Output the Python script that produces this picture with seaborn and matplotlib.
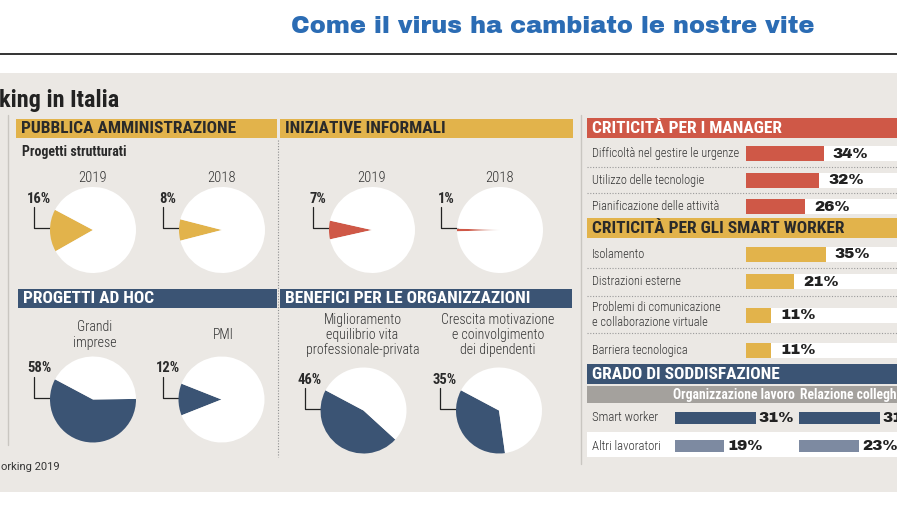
import matplotlib
matplotlib.use("Agg")
import matplotlib.pyplot as plt
import pandas as pd
import seaborn as sns
from matplotlib.patches import Rectangle

# ---------------- data ----------------
title = "Come il virus ha cambiato le nostre vite"
subtitle = "king in Italia"
source = "orking 2019"

pa_header = "PUBBLICA AMMINISTRAZIONE"
pa_sub = "Progetti strutturati"
pa_years = ["2019", "2018"]
pa_values = [16, 8]

inf_header = "INIZIATIVE INFORMALI"
inf_years = ["2019", "2018"]
inf_values = [7, 1]

adhoc_header = "PROGETTI AD HOC"
adhoc_labels = ["Grandi\nimprese", "PMI"]
adhoc_values = [58, 12]

ben_header = "BENEFICI PER LE ORGANIZZAZIONI"
ben_labels = ["Miglioramento\nequilibrio vita\nprofessionale-privata",
              "Crescita motivazione\ne coinvolgimento\ndei dipendenti"]
ben_values = [46, 35]

mgr_header = "CRITICITÀ PER I MANAGER"
mgr_labels = ["Difficoltà nel gestire le urgenze", "Utilizzo delle tecnologie",
              "Pianificazione delle attività"]
mgr_values = [34, 32, 26]

sw_header = "CRITICITÀ PER GLI SMART WORKER"
sw_labels = ["Isolamento", "Distrazioni esterne",
             "Problemi di comunicazione\ne collaborazione virtuale", "Barriera tecnologica"]
sw_values = [35, 21, 11, 11]

sat_header = "GRADO DI SODDISFAZIONE"
sat_cols = ["Organizzazione lavoro", "Relazione colleghi"]
sat_groups = ["Smart worker", "Altri lavoratori"]
sat_org = [31, 19]
sat_rel = [31, 23]

# ---------------- style ----------------
GOLD = "#e2b34b"
RED = "#cf5847"
NAVY = "#3b5474"
LIGHTNAVY = "#7d8aa1"
PANEL = "#ebe8e4"
SUBGREY = "#a4a19d"
DARK = "#2a2a2a"
TXT = "#333333"
BLUE = "#2b6cb4"
COND = ["Roboto Condensed", "DejaVu Sans"]
HEAVY = ["Archivo Black", "DejaVu Sans"]

sns.set_theme(style="white")
plt.rcParams["font.family"] = COND

W, H = 897, 505
fig = plt.figure(figsize=(W / 100, H / 100), dpi=100)
fig.patch.set_facecolor("white")
bg = fig.add_axes([0, 0, 1, 1])
bg.set_xlim(0, W)
bg.set_ylim(H, 0)
bg.axis("off")


def box(x0, y0, x1, y1):
    return fig.add_axes([x0 / W, 1 - y1 / H, (x1 - x0) / W, (y1 - y0) / H])


def rect(x0, y0, x1, y1, color, z=1):
    bg.add_patch(Rectangle((x0, y0), x1 - x0, y1 - y0, facecolor=color, lw=0, zorder=z))


def header(x0, y0, x1, y1, color, text, tcolor):
    rect(x0, y0, x1, y1, color, z=2)
    bg.text(x0 + 5, (y0 + y1) / 2 + 0.5, text, ha="left", va="center", fontsize=12.5,
            fontweight="heavy", color=tcolor, zorder=3)


# background pieces
rect(0, 72.5, W, 492, PANEL, z=0)
bg.plot([0, W], [54, 54], color="#111111", lw=1.2)
bg.text(553, 27, title, ha="center", va="center", fontfamily=HEAVY, fontsize=17.3, color=BLUE)
bg.text(-1, 100, subtitle, ha="left", va="center", fontsize=17.5, fontweight="heavy",
        color="#222222")
bg.text(1, 467, source, ha="left", va="center", fontfamily=["Roboto", "DejaVu Sans"],
        fontsize=8, color=TXT)

bg.plot([8, 8], [115, 445], color="#c9c6c1", lw=1)
bg.plot([277.5, 277.5], [140, 457], color="#8f8f8f", lw=0.8, ls=(0, (1, 1.5)))
bg.plot([581, 581], [115, 464], color="#c9c6c1", lw=1)

header(16, 119, 277, 137.5, GOLD, pa_header, DARK)
header(280, 119, 573, 137.5, GOLD, inf_header, DARK)
header(18, 289, 277, 307.5, NAVY, adhoc_header, "white")
header(280, 289, 572, 307.5, NAVY, ben_header, "white")
bg.text(22, 152, pa_sub, ha="left", va="center", fontsize=10, fontweight="bold", color=DARK)


# ---------------- pies ----------------
def draw_pie(cx, cy, value, color, r=43):
    ax = box(cx - r, cy - r, cx + r, cy + r)
    start = 180 - min(value * 3.6 / 2, 28)
    ax.pie([value, 100 - value], colors=[color, "white"], startangle=start,
           counterclock=True, radius=1, wedgeprops=dict(linewidth=0))
    ax.set_xlim(-1.0, 1.0)
    ax.set_ylim(-1.0, 1.0)
    ax.set_aspect("equal")
    ax.axis("off")
    lx = cx - r - 16
    bg.plot([lx, lx, cx - r + 1], [cy - 23, cy - 2, cy - 2], color="#222222", lw=0.9, zorder=3)
    bg.text(lx + 5, cy - 31, f"{value}%", ha="center", va="center", fontsize=10.5,
            fontweight="bold", color=DARK)


pie_cx_left = [93, 222]
pie_cx_right = [372, 500]
for cx, yr, v in zip(pie_cx_left, pa_years, pa_values):
    draw_pie(cx, 230, v, GOLD)
    bg.text(cx, 178, yr, ha="center", va="center", fontsize=10.5, color=TXT, fontweight="light")
for cx, yr, v in zip(pie_cx_right, inf_years, inf_values):
    draw_pie(cx, 230, v, RED)
    bg.text(cx, 178, yr, ha="center", va="center", fontsize=10.5, color=TXT, fontweight="light")
for cx, lab, v in zip([93, 221.5], adhoc_labels, adhoc_values):
    draw_pie(cx, 399.5, v, NAVY)
    bg.text(cx + 2, 335, lab, ha="center", va="center", fontsize=10, color=TXT,
            fontweight="light", linespacing=1.1)
for cx, lab, v in zip([363.5, 499], ben_labels, ben_values):
    draw_pie(cx, 410.5, v, NAVY)
    bg.text(cx - 1, 335, lab, ha="center", va="center", fontsize=10, color=TXT,
            fontweight="light", linespacing=1.1)


# ---------------- bars ----------------
def bar_row(cy, x0, x1, value, label, color, scale, h, track, gap, vsize):
    ax = box(x0, cy - h / 2, x1, cy + h / 2)
    df = pd.DataFrame({"cat": [label], "val": [value]})
    sns.barplot(data=df, x="val", y="cat", orient="h", color=color, width=1.0,
                saturation=1, ax=ax, linewidth=0)
    ax.set_xlim(0, (x1 - x0) / scale)
    ax.set_ylim(0.5, -0.5)
    ax.set_facecolor("white" if track else "none")
    ax.set_xticks([])
    ax.set_yticks([])
    ax.set_xlabel("")
    ax.set_ylabel("")
    for s in ax.spines.values():
        s.set_visible(False)
    ax.text(value + gap / scale, 0, f"{value}%", ha="left", va="center", fontfamily=HEAVY,
            fontsize=vsize, color="#222222", clip_on=False)


header(587, 118, W + 2, 137.5, RED, mgr_header, "white")
mgr_y = [153.5, 180.5, 207]
for y in [166.5, 193]:
    bg.plot([587, W], [y, y], color="#9a9a9a", lw=0.8, ls=(0, (1, 1.5)))
for y, lab, v in zip(mgr_y, mgr_labels, mgr_values):
    bar_row(y, 746, W, v, lab, RED, 2.28, 15, True, 9, 11)
    bg.text(592, y, lab, ha="left", va="center", fontsize=8.8, color=TXT, fontweight="light")

header(587, 218, W + 2, 237.5, GOLD, sw_header, DARK)
sw_y = [254.5, 281.5, 315, 350.5]
for y in [268, 296, 333]:
    bg.plot([587, W], [y, y], color="#9a9a9a", lw=0.8, ls=(0, (1, 1.5)))
for y, lab, v in zip(sw_y, sw_labels, sw_values):
    bar_row(y, 746, W, v, lab, GOLD, 2.28, 15, True, 9, 11)
    bg.text(592, y, lab, ha="left", va="center", fontsize=8.8, color=TXT, fontweight="light",
            linespacing=1.15)

header(587, 364, W + 2, 383.5, NAVY, sat_header, "white")
rect(587, 386, W + 2, 402.5, SUBGREY, z=2)
bg.text(795, 394.5, sat_cols[0], ha="right", va="center", fontsize=9.8, fontweight="bold",
        color="white", zorder=3)
bg.text(800, 394.5, sat_cols[1], ha="left", va="center", fontsize=9.8, fontweight="bold",
        color="white", zorder=3, clip_on=True)
rect(587, 432, W + 2, 457, "white", z=1)
sat_y = [417.5, 446]
sat_colors = [NAVY, LIGHTNAVY]
for y, g, vo, vr, c in zip(sat_y, sat_groups, sat_org, sat_rel, sat_colors):
    bar_row(y, 675, 797, vo, g, c, 2.6, 12, False, 3, 11)
    bar_row(y, 799, W, vr, g, c, 2.6, 12, False, 3, 11)
    bg.text(592, y, g, ha="left", va="center", fontsize=9.2, color=TXT, fontweight="light")

fig.savefig("out.png", dpi=100, facecolor="white")
